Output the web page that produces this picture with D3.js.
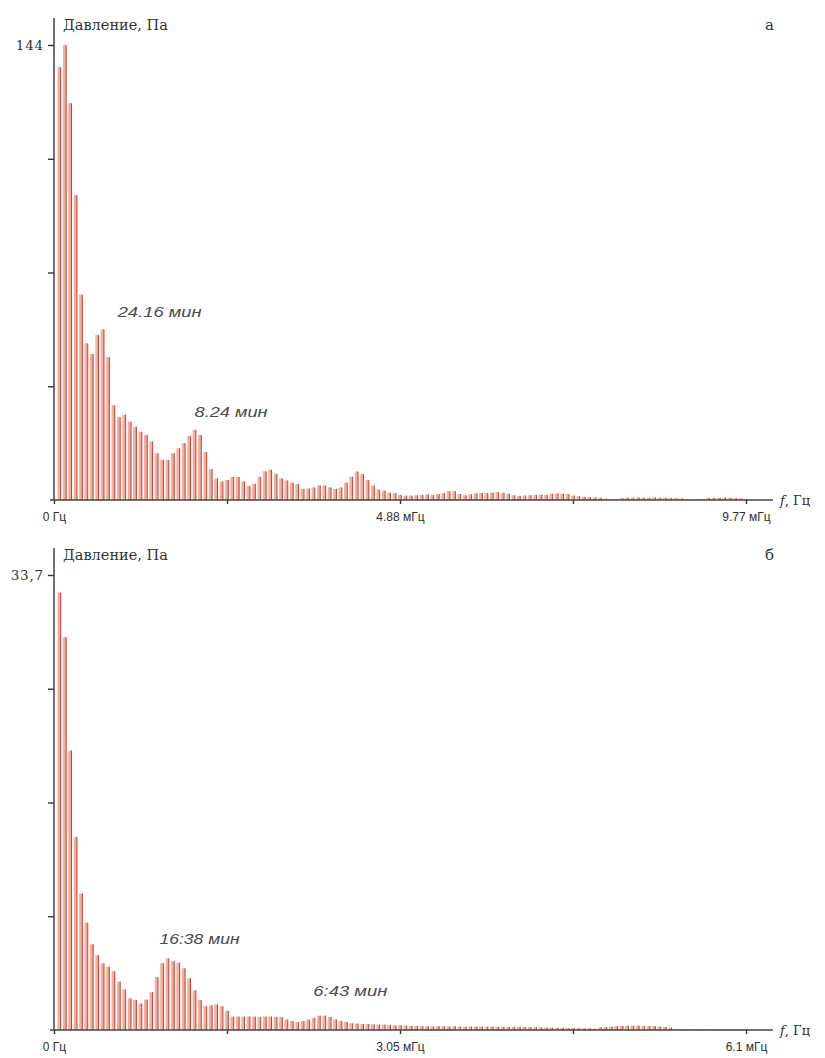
<!DOCTYPE html>
<html>
<head>
<meta charset="utf-8">
<script src="https://cdn.jsdelivr.net/npm/d3@7"></script>
<style>
  body { margin: 0; background: #fff; }
  svg { display: block; }
</style>
</head>
<body>
<svg id="chart" width="825" height="1058"></svg>
<script>
// Spectrum amplitudes (Pa) for frequency bins 1..128 — panel "а"
const spectrumA = [
  137, 144, 125.6, 96.5, 65, 49.6, 46.2, 52.2, 54, 45.2,
  30, 26.2, 27, 24.8, 23.2, 21.6, 20.6, 18.5, 14.8, 12.7,
  12.7, 14.8, 16.4, 18, 20.3, 22.2, 20.6, 15.2, 9.8, 6.8,
  5.8, 6.3, 7.3, 7.3, 5.9, 4.5, 5.1, 7.4, 9.1, 9.6,
  8.3, 6.8, 6.2, 5.5, 5.1, 3.5, 3.6, 4.0, 4.6, 4.6,
  4.0, 3.5, 4.0, 5.5, 7.4, 9.0, 8.2, 6.3, 4.6, 3.3,
  3.0, 2.3, 2.2, 1.6, 1.4, 1.4, 1.5, 1.6, 1.8, 1.6,
  1.9, 2.2, 2.8, 2.8, 1.9, 1.5, 1.8, 2.1, 2.2, 2.2,
  2.3, 2.5, 2.3, 2.0, 1.5, 1.3, 1.4, 1.5, 1.6, 1.7,
  1.6, 2.0, 2.1, 2.0, 1.9, 1.4, 1.2, 1.0, 0.9, 0.8,
  0.7, 0.4, 0.3, 0.3, 0.6, 0.7, 0.7, 0.8, 0.7, 0.7,
  0.8, 0.7, 0.7, 0.6, 0.6, 0.5, 0.2, 0.2, 0.2, 0.3,
  0.6, 0.7, 0.7, 0.8, 0.7, 0.6, 0.5, 0.3
];

// Spectrum amplitudes (Pa) for frequency bins 1..128 — panel "б"
const spectrumB = [
  32.4, 29.1, 20.7, 14.3, 10.1, 7.95, 6.35, 5.55, 4.94, 4.69,
  4.35, 3.58, 3.0, 2.35, 2.22, 1.96, 2.25, 2.8, 3.92, 4.95,
  5.3, 5.1, 4.99, 4.57, 3.84, 2.94, 2.22, 1.76, 1.84, 1.9,
  1.76, 1.43, 0.99, 0.99, 0.99, 1.0, 0.99, 0.98, 0.99, 1.0,
  0.97, 0.95, 0.78, 0.66, 0.6, 0.67, 0.77, 0.9, 1.06, 1.06,
  0.96, 0.78, 0.67, 0.6, 0.5, 0.48, 0.45, 0.45, 0.42, 0.4,
  0.4, 0.38, 0.35, 0.35, 0.33, 0.3, 0.3, 0.28, 0.28, 0.27,
  0.28, 0.27, 0.26, 0.27, 0.26, 0.25, 0.26, 0.25, 0.25, 0.24,
  0.25, 0.24, 0.24, 0.23, 0.24, 0.23, 0.22, 0.22, 0.2, 0.2,
  0.18, 0.18, 0.15, 0.15, 0.14, 0.14, 0.13, 0.12, 0.12, 0.1,
  0.2, 0.22, 0.25, 0.28, 0.3, 0.32, 0.32, 0.32, 0.3, 0.3,
  0.28, 0.25, 0.22, 0.18, 0.05, 0.05, 0.05, 0.05, 0.05, 0.05,
  0.05, 0.05, 0.05, 0.05, 0.05, 0.05, 0.05, 0.05
];

// Axis ticks and labels
const binCount = 128;
const xTickBins = [0, 32, 64, 96, 128];
const xTickLabelsA = ["0 Гц", "", "4.88 мГц", "", "9.77 мГц"];
const xTickLabelsB = ["0 Гц", "", "3.05 мГц", "", "6.1 мГц"];
const yMaxA = 144;
const yMaxB = 33.7;
const yTickLabelsA = ["", "", "", "144"];
const yTickLabelsB = ["", "", "", "33,7"];

// Peak periods
const peakTextA = ["24.16 мин", "8.24 мин"];
const peakBinA = [9, 26];
const peakTextB = ["16:38 мин", "6:43 мин"];
const peakBinB = [21, 50];

const svg = d3.select("#chart");

function drawPanel(cfg) {
  const g = svg.append("g");
  const x = d3.scaleLinear().domain([0, binCount]).range([54, 746]);
  const y = d3.scaleLinear().domain([0, cfg.yMax]).range([cfg.base, cfg.base - 455]);

  // bars: pale fill with a darker edge line
  const bins = cfg.values.map((v, i) => ({ k: i + 1, v }));
  g.append("g").selectAll("rect").data(bins).join("rect")
    .attr("x", d => x(d.k) - 1.9)
    .attr("y", d => y(d.v))
    .attr("width", 3.3)
    .attr("height", d => cfg.base - y(d.v))
    .attr("fill", "#f7ad9b");
  g.append("g").selectAll("line").data(bins).join("line")
    .attr("x1", d => x(d.k) + 1.3)
    .attr("x2", d => x(d.k) + 1.3)
    .attr("y1", d => y(d.v))
    .attr("y2", cfg.base)
    .attr("stroke", "#b0483c")
    .attr("stroke-width", 1);

  // y axis
  const yTicks = [1, 2, 3, 4].map(i => cfg.yMax * i / 4);
  const yAxis = d3.axisLeft(y)
    .tickValues(yTicks)
    .tickFormat((d, i) => cfg.yLabels[i])
    .tickSize(6)
    .tickSizeOuter(0)
    .tickPadding(4);
  const ya = g.append("g").attr("transform", "translate(54,0)").call(yAxis);
  ya.select(".domain").remove();
  ya.selectAll(".tick line").attr("stroke", "#333").attr("stroke-width", 1.4);
  ya.selectAll(".tick text")
    .attr("font-family", "'DejaVu Serif', serif")
    .attr("font-size", 13.5)
    .attr("letter-spacing", 0.8)
    .attr("fill", "#333")
    .attr("dy", "0.32em");
  g.append("line")
    .attr("x1", 54).attr("x2", 54)
    .attr("y1", cfg.base - 482).attr("y2", cfg.base)
    .attr("stroke", "#444").attr("stroke-width", 1.5);

  // x axis
  const xAxis = d3.axisBottom(x)
    .tickValues(xTickBins)
    .tickFormat((d, i) => cfg.xLabels[i])
    .tickSize(4)
    .tickSizeOuter(0)
    .tickPadding(8);
  const xa = g.append("g").attr("transform", `translate(0,${cfg.base})`).call(xAxis);
  xa.select(".domain").remove();
  xa.selectAll(".tick line").attr("stroke", "#333").attr("stroke-width", 1.4);
  xa.selectAll(".tick text")
    .attr("font-family", "'Liberation Sans Narrow', 'Liberation Sans', sans-serif")
    .attr("font-size", 12)
    .attr("fill", "#2e2e2e");
  g.append("line")
    .attr("x1", 50).attr("x2", 773)
    .attr("y1", cfg.base).attr("y2", cfg.base)
    .attr("stroke", "#444").attr("stroke-width", 1.3);

  // axis titles
  g.append("text")
    .attr("x", 63).attr("y", cfg.base - 470)
    .attr("font-family", "'DejaVu Serif', serif")
    .attr("font-size", 14.5)
    .attr("fill", "#333")
    .text("Давление, Па");
  const fl = g.append("text")
    .attr("x", 780).attr("y", cfg.base + 5)
    .attr("font-family", "'DejaVu Serif', serif")
    .attr("font-size", 13)
    .attr("fill", "#333");
  fl.append("tspan").attr("font-style", "italic").text("f");
  fl.append("tspan").text(", Гц");

  // panel letter
  g.append("text")
    .attr("x", 765).attr("y", cfg.base - 470)
    .attr("font-family", "'DejaVu Serif', serif")
    .attr("font-size", 15)
    .attr("fill", "#333")
    .text(cfg.letter);

  // peak period labels
  cfg.peakText.forEach((t, i) => {
    const k = cfg.peakBin[i];
    g.append("text")
      .attr("x", x(k) + cfg.labelDx[i])
      .attr("y", y(cfg.values[k - 1]) + cfg.labelDy[i])
      .attr("font-family", "'Liberation Sans', Arial, sans-serif")
      .attr("font-style", "italic")
      .attr("font-size", 14)
      .attr("textLength", cfg.labelW[i])
      .attr("lengthAdjust", "spacingAndGlyphs")
      .attr("fill", "#4a4a4a")
      .text(t);
  });
}

drawPanel({
  values: spectrumA, yMax: yMaxA, base: 500,
  xLabels: xTickLabelsA, yLabels: yTickLabelsA, letter: "а",
  peakText: peakTextA, peakBin: peakBinA,
  labelDx: [15, 0], labelDy: [-12, -13], labelW: [84, 73]
});
drawPanel({
  values: spectrumB, yMax: yMaxB, base: 1030,
  xLabels: xTickLabelsB, yLabels: yTickLabelsB, letter: "б",
  peakText: peakTextB, peakBin: peakBinB,
  labelDx: [-8, -11], labelDy: [-14, -20], labelW: [80, 74]
});
</script>
</body>
</html>
